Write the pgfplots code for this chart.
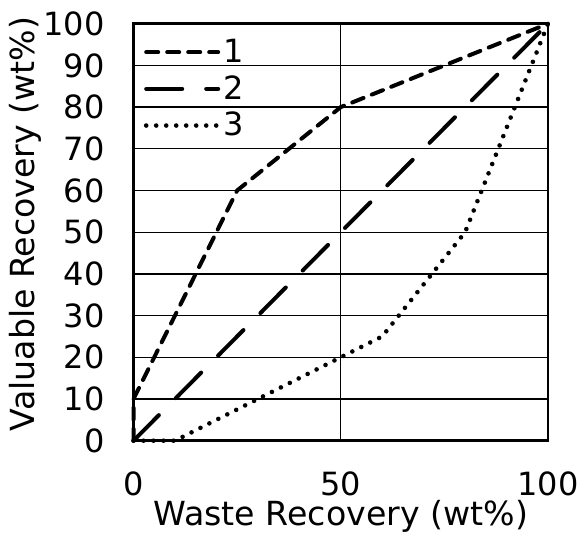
\documentclass[border=0pt]{standalone}
\usepackage{fontspec}
\setmainfont{DejaVu Sans}
\usepackage{pgfplots}
\pgfplotsset{compat=1.18}
\newcommand{\chfont}{\fontsize{16}{19}\selectfont}
\newcommand{\lbfont}{\fontsize{16.6}{19}\selectfont}
\begin{document}
\begin{tikzpicture}
\begin{axis}[
  width=207.25pt, height=208.5pt,
  scale only axis,
  xmin=0, xmax=100, ymin=0, ymax=100,
  xtick={0,50,100},
  ytick={0,10,...,100},
  major tick length=0pt,
  grid=major,
  grid style={black, line width=0.65pt},
  axis line style={line width=1.2pt},
  /pgf/number format/assume math mode=true,
  ticklabel style={font=\chfont},
  xticklabel style={anchor=base, yshift=-27.15pt},
  yticklabel style={xshift=-11pt},
  xlabel={Waste Recovery (wt\%)},
  ylabel={Valuable Recovery (wt\%)},
  label style={font=\lbfont},
  xlabel style={at={(axis description cs:0.5,0)}, anchor=base, yshift=-42.15pt},
  ylabel style={at={(axis description cs:0,0.52)}, anchor=base, yshift=49.25pt},
  clip=false,
  legend cell align=left,
  legend style={draw=none, fill=none, font=\chfont,
    at={(axis description cs:0,1)}, anchor=north west,
    xshift=5pt, yshift=-6pt, inner sep=0pt, row sep=2pt,
    nodes={inner sep=1.5pt}},
  legend image code/.code={\draw[#1] (0pt,0pt) -- (36pt,0pt);},
]
\addplot[black, line width=2pt, line cap=round, dash pattern=on 6pt off 4.5pt]
  coordinates {(0,0) (0,10) (25,60) (50,80) (100,100)};
\addlegendentry{1}
\addplot[black, line width=2pt, line cap=round, dash pattern=on 18pt off 12pt]
  coordinates {(0,0) (100,100)};
\addlegendentry{2}
\addplot[black, line width=2.3pt, line cap=round, dash pattern=on 0pt off 5pt]
  coordinates {(0,0) (10,0) (50,20) (60,25) (80,50) (100,100)};
\addlegendentry{3}
\end{axis}
\pgfresetboundingbox
\useasboundingbox (current axis.south west) ++(-66.75pt,-46.15pt) rectangle ++(291pt,266.5pt);
\end{tikzpicture}
\end{document}
